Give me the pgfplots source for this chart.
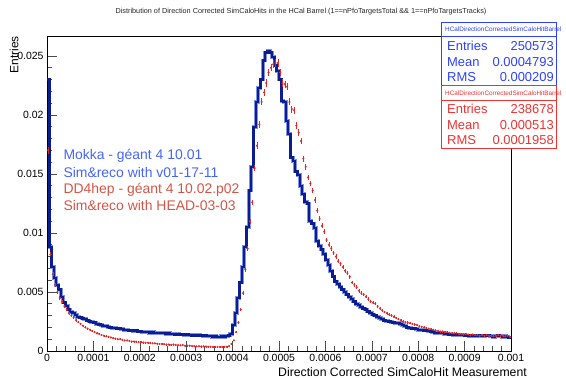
\documentclass[border=0pt]{standalone}
\usepackage{pgfplots}
\pgfplotsset{compat=1.18}
\usepackage{pgfplotstable}
\usepackage{fontspec}
\setmainfont{Liberation Sans}
\definecolor{hblue}{RGB}{12,28,145}
\definecolor{hblueh}{RGB}{125,145,230}
\definecolor{hred}{RGB}{228,40,40}
\definecolor{statblue}{RGB}{45,65,255}
\definecolor{statred}{RGB}{240,50,50}
\definecolor{legblue}{RGB}{70,100,252}
\definecolor{legred}{RGB}{212,85,72}
\pgfplotstableread{
lo mid b r
0 2.5e-6 23.0e-3 17.0e-3
5e-6 7.5e-6 8.8e-3 8.2e-3
10e-6 12.5e-6 7.1e-3 6.5e-3
15e-6 17.5e-6 6.2e-3 5.6e-3
20e-6 22.5e-6 5.6e-3 5.0e-3
25e-6 27.5e-6 5.2e-3 4.5e-3
30e-6 32.5e-6 4.6e-3 4.2e-3
35e-6 37.5e-6 4.1e-3 3.8e-3
40e-6 42.5e-6 3.8e-3 3.5e-3
45e-6 47.5e-6 3.5e-3 3.2e-3
50e-6 52.5e-6 3.3e-3 3.0e-3
55e-6 57.5e-6 3.2e-3 2.85e-3
60e-6 62.5e-6 3.05e-3 2.6e-3
65e-6 67.5e-6 2.9e-3 2.45e-3
70e-6 72.5e-6 2.85e-3 2.3e-3
75e-6 77.5e-6 2.75e-3 2.15e-3
80e-6 82.5e-6 2.7e-3 2.0e-3
85e-6 87.5e-6 2.6e-3 1.9e-3
90e-6 92.5e-6 2.5e-3 1.8e-3
95e-6 97.5e-6 2.45e-3 1.7e-3
100e-6 102.5e-6 2.4e-3 1.6e-3
105e-6 107.5e-6 2.3e-3 1.5e-3
110e-6 112.5e-6 2.25e-3 1.45e-3
115e-6 117.5e-6 2.2e-3 1.35e-3
120e-6 122.5e-6 2.1e-3 1.3e-3
125e-6 127.5e-6 2.1e-3 1.25e-3
130e-6 132.5e-6 2.05e-3 1.2e-3
135e-6 137.5e-6 2.0e-3 1.15e-3
140e-6 142.5e-6 1.95e-3 1.1e-3
145e-6 147.5e-6 1.95e-3 1.05e-3
150e-6 152.5e-6 1.9e-3 1.0e-3
155e-6 157.5e-6 1.9e-3 1.0e-3
160e-6 162.5e-6 1.85e-3 0.95e-3
165e-6 167.5e-6 1.8e-3 0.9e-3
170e-6 172.5e-6 1.8e-3 0.9e-3
175e-6 177.5e-6 1.75e-3 0.85e-3
180e-6 182.5e-6 1.75e-3 0.8e-3
185e-6 187.5e-6 1.7e-3 0.8e-3
190e-6 192.5e-6 1.75e-3 0.78e-3
195e-6 197.5e-6 1.65e-3 0.75e-3
200e-6 202.5e-6 1.65e-3 0.75e-3
205e-6 207.5e-6 1.6e-3 0.72e-3
210e-6 212.5e-6 1.6e-3 0.7e-3
215e-6 217.5e-6 1.6e-3 0.7e-3
220e-6 222.5e-6 1.55e-3 0.68e-3
225e-6 227.5e-6 1.6e-3 0.65e-3
230e-6 232.5e-6 1.55e-3 0.65e-3
235e-6 237.5e-6 1.5e-3 0.62e-3
240e-6 242.5e-6 1.55e-3 0.6e-3
245e-6 247.5e-6 1.5e-3 0.6e-3
250e-6 252.5e-6 1.5e-3 0.58e-3
255e-6 257.5e-6 1.45e-3 0.55e-3
260e-6 262.5e-6 1.5e-3 0.55e-3
265e-6 267.5e-6 1.45e-3 0.52e-3
270e-6 272.5e-6 1.45e-3 0.55e-3
275e-6 277.5e-6 1.4e-3 0.5e-3
280e-6 282.5e-6 1.45e-3 0.5e-3
285e-6 287.5e-6 1.4e-3 0.48e-3
290e-6 292.5e-6 1.4e-3 0.5e-3
295e-6 297.5e-6 1.35e-3 0.45e-3
300e-6 302.5e-6 1.4e-3 0.45e-3
305e-6 307.5e-6 1.35e-3 0.45e-3
310e-6 312.5e-6 1.3e-3 0.42e-3
315e-6 317.5e-6 1.35e-3 0.42e-3
320e-6 322.5e-6 1.3e-3 0.4e-3
325e-6 327.5e-6 1.35e-3 0.4e-3
330e-6 332.5e-6 1.3e-3 0.38e-3
335e-6 337.5e-6 1.25e-3 0.4e-3
340e-6 342.5e-6 1.3e-3 0.38e-3
345e-6 347.5e-6 1.25e-3 0.36e-3
350e-6 352.5e-6 1.25e-3 0.36e-3
355e-6 357.5e-6 1.2e-3 0.35e-3
360e-6 362.5e-6 1.25e-3 0.35e-3
365e-6 367.5e-6 1.2e-3 0.34e-3
370e-6 372.5e-6 1.2e-3 0.35e-3
375e-6 377.5e-6 1.25e-3 0.34e-3
380e-6 382.5e-6 1.2e-3 0.35e-3
385e-6 387.5e-6 1.25e-3 0.36e-3
390e-6 392.5e-6 1.3e-3 0.42e-3
395e-6 397.5e-6 1.45e-3 0.6e-3
400e-6 402.5e-6 2.2e-3 0.9e-3
405e-6 407.5e-6 3.2e-3 1.6e-3
410e-6 412.5e-6 4.5e-3 2.4e-3
415e-6 417.5e-6 5.8e-3 3.5e-3
420e-6 422.5e-6 7.1e-3 4.9e-3
425e-6 427.5e-6 8.8e-3 6.9e-3
430e-6 432.5e-6 10.5e-3 8.7e-3
435e-6 437.5e-6 13.6e-3 11.0e-3
440e-6 442.5e-6 15.6e-3 12.6e-3
445e-6 447.5e-6 19.0e-3 15.5e-3
450e-6 452.5e-6 21.1e-3 17.4e-3
455e-6 457.5e-6 22.3e-3 19.2e-3
460e-6 462.5e-6 23.0e-3 21.1e-3
465e-6 467.5e-6 24.6e-3 21.9e-3
470e-6 472.5e-6 25.3e-3 22.7e-3
475e-6 477.5e-6 25.4e-3 23.6e-3
480e-6 482.5e-6 25.3e-3 24.0e-3
485e-6 487.5e-6 24.9e-3 24.3e-3
490e-6 492.5e-6 24.2e-3 24.4e-3
495e-6 497.5e-6 23.7e-3 24.4e-3
500e-6 502.5e-6 23.0e-3 23.6e-3
505e-6 507.5e-6 21.2e-3 22.7e-3
510e-6 512.5e-6 21.1e-3 22.6e-3
515e-6 517.5e-6 19.5e-3 22.4e-3
520e-6 522.5e-6 18.4e-3 21.1e-3
525e-6 527.5e-6 16.4e-3 20.5e-3
530e-6 532.5e-6 16.1e-3 20.4e-3
535e-6 537.5e-6 15.2e-3 19.1e-3
540e-6 542.5e-6 14.9e-3 18.5e-3
545e-6 547.5e-6 14.0e-3 17.8e-3
550e-6 552.5e-6 13.3e-3 16.3e-3
555e-6 557.5e-6 12.6e-3 15.6e-3
560e-6 562.5e-6 12.5e-3 14.7e-3
565e-6 567.5e-6 11.0e-3 14.2e-3
570e-6 572.5e-6 10.8e-3 13.6e-3
575e-6 577.5e-6 10.4e-3 12.8e-3
580e-6 582.5e-6 9.3e-3 11.9e-3
585e-6 587.5e-6 8.9e-3 11.2e-3
590e-6 592.5e-6 8.6e-3 10.6e-3
595e-6 597.5e-6 8.2e-3 10.1e-3
600e-6 602.5e-6 7.7e-3 9.4e-3
605e-6 607.5e-6 7.3e-3 9.0e-3
610e-6 612.5e-6 6.8e-3 8.7e-3
615e-6 617.5e-6 6.3e-3 8.3e-3
620e-6 622.5e-6 5.9e-3 8.0e-3
625e-6 627.5e-6 5.7e-3 7.6e-3
630e-6 632.5e-6 5.4e-3 7.4e-3
635e-6 637.5e-6 5.2e-3 7.1e-3
640e-6 642.5e-6 5.0e-3 6.8e-3
645e-6 647.5e-6 4.8e-3 6.6e-3
650e-6 652.5e-6 4.6e-3 6.3e-3
655e-6 657.5e-6 4.4e-3 5.8e-3
660e-6 662.5e-6 4.2e-3 5.6e-3
665e-6 667.5e-6 4.0e-3 5.4e-3
670e-6 672.5e-6 3.9e-3 5.1e-3
675e-6 677.5e-6 3.75e-3 4.9e-3
680e-6 682.5e-6 3.6e-3 4.8e-3
685e-6 687.5e-6 3.5e-3 4.6e-3
690e-6 692.5e-6 3.35e-3 4.4e-3
695e-6 697.5e-6 3.2e-3 4.2e-3
700e-6 702.5e-6 3.1e-3 4.1e-3
705e-6 707.5e-6 3.0e-3 4.0e-3
710e-6 712.5e-6 2.9e-3 3.8e-3
715e-6 717.5e-6 2.8e-3 3.6e-3
720e-6 722.5e-6 2.7e-3 3.45e-3
725e-6 727.5e-6 2.6e-3 3.3e-3
730e-6 732.5e-6 2.55e-3 3.2e-3
735e-6 737.5e-6 2.5e-3 3.1e-3
740e-6 742.5e-6 2.45e-3 3.0e-3
745e-6 747.5e-6 2.4e-3 2.9e-3
750e-6 752.5e-6 2.35e-3 2.8e-3
755e-6 757.5e-6 2.35e-3 2.7e-3
760e-6 762.5e-6 2.3e-3 2.6e-3
765e-6 767.5e-6 2.2e-3 2.5e-3
770e-6 772.5e-6 2.1e-3 2.45e-3
775e-6 777.5e-6 2.0e-3 2.4e-3
780e-6 782.5e-6 1.95e-3 2.35e-3
785e-6 787.5e-6 1.9e-3 2.3e-3
790e-6 792.5e-6 1.9e-3 2.25e-3
795e-6 797.5e-6 1.85e-3 2.2e-3
800e-6 802.5e-6 1.8e-3 2.1e-3
805e-6 807.5e-6 1.8e-3 2.05e-3
810e-6 812.5e-6 1.75e-3 2.0e-3
815e-6 817.5e-6 1.75e-3 1.95e-3
820e-6 822.5e-6 1.7e-3 1.9e-3
825e-6 827.5e-6 1.65e-3 1.85e-3
830e-6 832.5e-6 1.6e-3 1.8e-3
835e-6 837.5e-6 1.55e-3 1.75e-3
840e-6 842.5e-6 1.5e-3 1.7e-3
845e-6 847.5e-6 1.5e-3 1.65e-3
850e-6 852.5e-6 1.5e-3 1.65e-3
855e-6 857.5e-6 1.45e-3 1.6e-3
860e-6 862.5e-6 1.45e-3 1.6e-3
865e-6 867.5e-6 1.4e-3 1.55e-3
870e-6 872.5e-6 1.4e-3 1.5e-3
875e-6 877.5e-6 1.35e-3 1.5e-3
880e-6 882.5e-6 1.4e-3 1.5e-3
885e-6 887.5e-6 1.35e-3 1.45e-3
890e-6 892.5e-6 1.35e-3 1.45e-3
895e-6 897.5e-6 1.35e-3 1.4e-3
900e-6 902.5e-6 1.3e-3 1.45e-3
905e-6 907.5e-6 1.3e-3 1.4e-3
910e-6 912.5e-6 1.25e-3 1.35e-3
915e-6 917.5e-6 1.3e-3 1.4e-3
920e-6 922.5e-6 1.25e-3 1.35e-3
925e-6 927.5e-6 1.3e-3 1.35e-3
930e-6 932.5e-6 1.25e-3 1.3e-3
935e-6 937.5e-6 1.3e-3 1.35e-3
940e-6 942.5e-6 1.25e-3 1.3e-3
945e-6 947.5e-6 1.3e-3 1.35e-3
950e-6 952.5e-6 1.3e-3 1.3e-3
955e-6 957.5e-6 1.25e-3 1.3e-3
960e-6 962.5e-6 1.2e-3 1.25e-3
965e-6 967.5e-6 1.25e-3 1.3e-3
970e-6 972.5e-6 1.3e-3 1.35e-3
975e-6 977.5e-6 1.25e-3 1.3e-3
980e-6 982.5e-6 1.2e-3 1.3e-3
985e-6 987.5e-6 1.25e-3 1.25e-3
990e-6 992.5e-6 1.2e-3 1.3e-3
995e-6 997.5e-6 1.15e-3 1.2e-3
1000e-6 1002.5e-6 1.15e-3 1.2e-3
}\datatable
\begin{document}
\begin{tikzpicture}
\useasboundingbox (0,0) rectangle (566bp,378bp);
\begin{axis}[
  at={(47bp,27bp)}, anchor=south west,
  scale only axis, width=464bp, height=315bp,
  xmin=0, xmax=0.001, ymin=0, ymax=0.02669,
  axis line style={black, line width=0.7bp},
  tick align=inside, xtick pos=bottom, ytick pos=left,
  major tick length=10bp, minor tick length=5bp,
  tick style={black!70, line width=0.6bp},
  scaled x ticks=false, scaled y ticks=false,
  xtick={0,0.0001,0.0002,0.0003,0.0004,0.0005,0.0006,0.0007,0.0008,0.0009,0.001},
  xticklabels={0,0.0001,0.0002,0.0003,0.0004,0.0005,0.0006,0.0007,0.0008,0.0009,0.001},
  ytick={0,0.005,0.01,0.015,0.02,0.025},
  yticklabels={0,0.005,0.01,0.015,0.02,0.025},
  minor x tick num=4, minor y tick num=4,
  /pgf/number format/assume math mode=true,
  tick label style={font=\fontsize{10.5}{12}\selectfont},
  xticklabel style={yshift=0.5bp},
  clip=true,
]
\addplot[const plot, line width=3.6bp, color=hblueh] table[x=lo, y=b] \datatable;
\addplot[const plot, line width=2.4bp, color=hblue] table[x=lo, y=b] \datatable;
\addplot[only marks, mark=*, mark size=0.85bp, color=hred,
  restrict x to domain=0:0.001,
  error bars/.cd, y dir=both, y explicit,
  error bar style={line width=0.6bp, hred}, error mark=none]
  table[x=mid, y=r, y error expr={sqrt(\thisrow{r}/238678)}] \datatable;
\end{axis}
% title and axis titles
\node[font=\fontsize{7.3}{8}\selectfont, text=black!85] at (301bp,366.5bp)
  {Distribution of Direction Corrected SimCaloHits in the HCal Barrel (1==nPfoTargetsTotal \&\& 1==nPfoTargetsTracks)};
\node[font=\fontsize{12}{14}\selectfont, rotate=90, anchor=east, inner sep=0pt] at (14bp,342bp) {Entries};
\node[font=\fontsize{12.3}{14}\selectfont, anchor=east, inner sep=0pt] at (527bp,6bp) {Direction Corrected SimCaloHit Measurement};
% legend text
\begin{scope}[every node/.style={anchor=west, inner sep=0pt, font=\fontsize{14}{16}\selectfont}]
\node[text=legblue] at (63.3bp,222bp) {Mokka - géant 4 10.01};
\node[text=legblue] at (63.3bp,205bp) {Sim\&reco with v01-17-11};
\node[text=legred] at (63.3bp,188bp) {DD4hep - géant 4 10.02.p02};
\node[text=legred] at (63.3bp,172bp) {Sim\&reco with HEAD-03-03};
\end{scope}
% stats boxes
\draw[statblue, line width=0.8bp, fill=white] (441.5bp,293bp) rectangle (556.7bp,355.3bp);
\draw[statblue, line width=0.8bp] (441.5bp,341.3bp) -- (556.7bp,341.3bp);
\node[anchor=west, inner sep=0pt, text=statblue, font=\fontsize{6.4}{7}\selectfont] at (445bp,348.5bp) {HCalDirectionCorrectedSimCaloHitBarrel};
\begin{scope}[every node/.style={inner sep=0pt, text=statblue, font=\fontsize{13}{15}\selectfont}]
\node[anchor=west] at (447bp,332bp) {Entries};
\node[anchor=east] at (554bp,332bp) {250573};
\node[anchor=west] at (447bp,316.3bp) {Mean};
\node[anchor=east] at (554bp,316.3bp) {0.0004793};
\node[anchor=west] at (447bp,301.3bp) {RMS};
\node[anchor=east] at (554bp,301.3bp) {0.000209};
\end{scope}
\draw[statred, line width=0.8bp, fill=white] (441.5bp,230bp) rectangle (556.7bp,292.3bp);
\draw[statred, line width=0.8bp] (441.5bp,278bp) -- (556.7bp,278bp);
\node[anchor=west, inner sep=0pt, text=statred, font=\fontsize{6.4}{7}\selectfont] at (445bp,285.2bp) {HCalDirectionCorrectedSimCaloHitBarrel};
\begin{scope}[every node/.style={inner sep=0pt, text=statred, font=\fontsize{13}{15}\selectfont}]
\node[anchor=west] at (447bp,269bp) {Entries};
\node[anchor=east] at (554bp,269bp) {238678};
\node[anchor=west] at (447bp,253bp) {Mean};
\node[anchor=east] at (554bp,253bp) {0.000513};
\node[anchor=west] at (447bp,238bp) {RMS};
\node[anchor=east] at (554bp,238bp) {0.0001958};
\end{scope}
\end{tikzpicture}
\end{document}
